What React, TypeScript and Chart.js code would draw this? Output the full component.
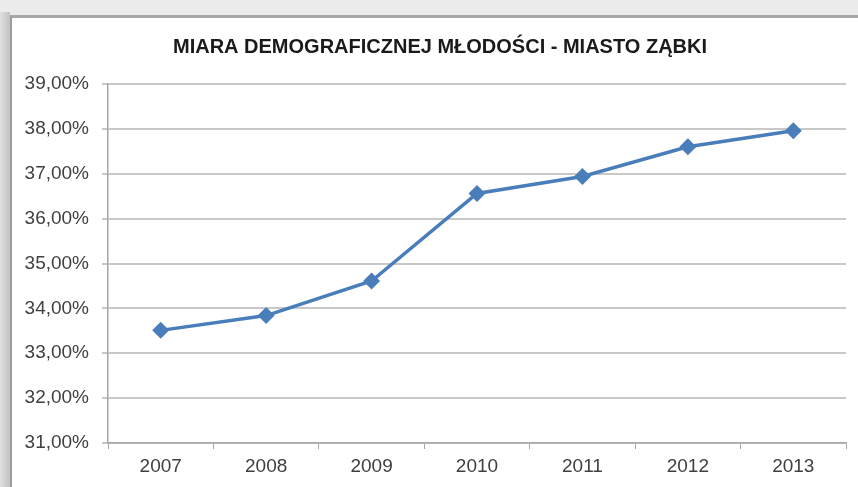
import React, { useEffect, useRef } from "react";
import { Chart, registerables } from "chart.js";

Chart.register(...registerables);

const TITLE = "MIARA DEMOGRAFICZNEJ MŁODOŚCI - MIASTO ZĄBKI";
const years = ["2007", "2008", "2009", "2010", "2011", "2012", "2013"];
const values = [33.51, 33.84, 34.61, 36.56, 36.94, 37.6, 37.96];
const yMin = 31;
const yMax = 39;
const yStep = 1;

const FONT = "'Liberation Sans', Arial, sans-serif";

const titleShift = {
  id: "titleShift",
  afterLayout(chart: any) {
    const t = chart.titleBlock;
    if (t) {
      t.left += 11;
      t.right += 11;
    }
  },
};

export default function App() {
  const ref = useRef<HTMLCanvasElement | null>(null);

  useEffect(() => {
    if (!ref.current) return;
    const chart = new Chart(ref.current, {
      type: "line",
      data: {
        labels: years,
        datasets: [
          {
            data: values,
            borderColor: "#4a7ebb",
            backgroundColor: "#4a7ebb",
            borderWidth: 3.5,
            pointStyle: "rectRot",
            pointRadius: 8.5,
            pointHoverRadius: 8.5,
            pointBorderWidth: 0,
            tension: 0,
          },
        ],
      },
      plugins: [titleShift],
      options: {
        animation: false,
        responsive: true,
        maintainAspectRatio: false,
        layout: { padding: { left: 0, right: 12, top: 0, bottom: 0 } },
        plugins: {
          legend: { display: false },
          tooltip: { enabled: false },
          title: {
            display: true,
            text: TITLE,
            color: "#1a1a1a",
            font: { family: FONT, size: 20, weight: "bold" },
            padding: { top: 17, bottom: 25 },
          },
        },
        scales: {
          x: {
            offset: true,
            grid: {
              offset: true,
              drawOnChartArea: false,
              drawTicks: true,
              tickLength: 6,
              color: "#a6a6a6",
              lineWidth: 1,
            },
            border: { display: true, color: "#a6a6a6", width: 1.5 },
            ticks: {
              color: "#404040",
              padding: 6,
              font: { family: FONT, size: 19 },
            },
            afterFit: (s: any) => {
              s.height = 44;
            },
          },
          y: {
            min: yMin,
            max: yMax,
            grid: {
              color: "#c8c8c8",
              lineWidth: 2,
              tickLength: 6,
              drawTicks: true,
            },
            border: { display: true, color: "#a6a6a6", width: 1.5 },
            ticks: {
              stepSize: yStep,
              color: "#404040",
              padding: 13,
              font: { family: FONT, size: 19 },
              callback: (v: any) => Number(v).toFixed(2).replace(".", ",") + "%",
            },
            afterFit: (s: any) => {
              s.width = 96;
            },
          },
        },
      },
    });
    return () => chart.destroy();
  }, []);

  return (
    <div
      style={{
        position: "fixed",
        left: 0,
        top: 0,
        width: 858,
        height: 487,
        background: "linear-gradient(#ececec, #e2e2e2)",
        overflow: "hidden",
      }}
    >
      <div
        style={{
          position: "absolute",
          left: 0,
          top: 12,
          width: 10,
          height: 475,
          background: "linear-gradient(to right, #e0e0e0, #c2c2c2)",
        }}
      />
      <div
        style={{
          position: "absolute",
          left: 10,
          top: 15,
          width: 848,
          height: 472,
          background: "#ffffff",
          borderLeft: "2px solid #9c9c9c",
          borderTop: "3px solid #a8a8a8",
          boxSizing: "border-box",
        }}
      >
        <div style={{ position: "absolute", left: 0, top: 0, width: 846, height: 469 }}>
          <canvas ref={ref} />
        </div>
      </div>
    </div>
  );
}
